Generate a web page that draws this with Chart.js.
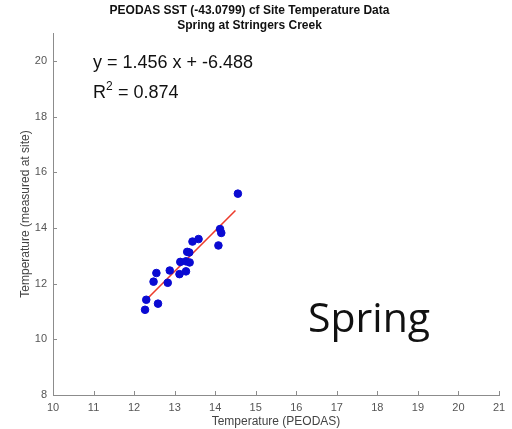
<!DOCTYPE html>
<html>
<head>
<meta charset="utf-8">
<title>PEODAS SST cf Site Temperature - Spring</title>
<script src="https://cdn.jsdelivr.net/npm/chart.js@4/dist/chart.umd.min.js"></script>
<style>
  html, body { margin: 0; padding: 0; background: #fff; }
  #wrap { position: relative; width: 512px; height: 429px; }
</style>
</head>
<body>
<div id="wrap"><canvas id="sstChart" width="512" height="429"></canvas></div>
<script>
// values
const peodasTemp = [14.56, 14.12, 14.15, 14.08, 13.59, 13.44, 13.31, 13.36, 13.14, 13.28,
                    13.37, 12.88, 13.12, 13.28, 12.55, 12.48, 12.83, 12.30, 12.59, 12.27];
const siteTemp   = [15.23, 13.96, 13.82, 13.37, 13.60, 13.51, 13.14, 13.12, 12.78, 12.80,
                    12.76, 12.47, 12.34, 12.44, 12.38, 12.07, 12.03, 11.42, 11.28, 11.06];
const fitSlope = 1.456;
const fitIntercept = -6.488;
const fitRange = [12.27, 14.5];
const rSquared = 0.874;
const xTicks = [10, 11, 12, 13, 14, 15, 16, 17, 18, 19, 20, 21];
const yTicks = [8, 10, 12, 14, 16, 18, 20];
const chartTitle = ["PEODAS SST (-43.0799) cf Site Temperature Data", "Spring at Stringers Creek"];
const seasonLabel = "Spring";

const axisGray = "#8c8c8c";
const labelGray = "#555";
const sans = "'Liberation Sans', Arial, Helvetica, sans-serif";

const scatterPoints = peodasTemp.map((x, i) => ({ x: x, y: siteTemp[i] }));
const fitPoints = fitRange.map(x => ({ x: x, y: fitSlope * x + fitIntercept }));

// matlab style ticks pointing into the plot area
const innerTicks = {
  id: "innerTicks",
  afterDraw(chart) {
    const ctx = chart.ctx;
    const xs = chart.scales.x, ys = chart.scales.y;
    ctx.save();
    ctx.strokeStyle = axisGray;
    ctx.lineWidth = 1;
    ctx.beginPath();
    xTicks.forEach(v => {
      const px = Math.round(xs.getPixelForValue(v)) + 0.5;
      ctx.moveTo(px, xs.top);
      ctx.lineTo(px, xs.top - 4);
    });
    yTicks.forEach(v => {
      const py = Math.round(ys.getPixelForValue(v)) + 0.5;
      ctx.moveTo(ys.right, py);
      ctx.lineTo(ys.right + 4, py);
    });
    ctx.stroke();
    ctx.restore();
  }
};

const fitText = {
  id: "fitText",
  afterDraw(chart) {
    const ctx = chart.ctx;
    const area = chart.chartArea;
    const left = area.left + 40;
    ctx.save();
    ctx.fillStyle = "#111";
    ctx.textBaseline = "alphabetic";
    ctx.font = "18px " + sans;
    ctx.fillText("y = " + fitSlope.toFixed(3) + " x + " + fitIntercept.toFixed(3), left, area.top + 35);
    ctx.fillText("R", left, area.top + 65);
    const rw = ctx.measureText("R").width;
    ctx.font = "12px " + sans;
    ctx.fillText("2", left + rw, area.top + 57);
    ctx.font = "18px " + sans;
    ctx.fillText(" = " + rSquared.toFixed(3), left + rw + 7, area.top + 65);

    ctx.font = "41px 'Open Sans', 'Noto Sans', sans-serif";
    ctx.fillText(seasonLabel, 308, 332);
    ctx.restore();
  }
};

new Chart(document.getElementById("sstChart"), {
  type: "scatter",
  data: {
    datasets: [
      {
        label: "Site vs PEODAS",
        data: scatterPoints,
        backgroundColor: "#0a0ad2",
        borderColor: "#0a0ad2",
        pointRadius: 3.8,
        pointHoverRadius: 3.8,
        order: 1
      },
      {
        type: "line",
        label: "Fit",
        data: fitPoints,
        borderColor: "#ec3b2c",
        borderWidth: 1.6,
        pointRadius: 0,
        fill: false,
        order: 2
      }
    ]
  },
  options: {
    responsive: false,
    animation: false,
    layout: { padding: { left: 0, right: 13, top: 0, bottom: 0 } },
    plugins: {
      legend: { display: false },
      tooltip: { enabled: false },
      title: {
        display: true,
        text: chartTitle,
        color: "#111",
        font: { family: sans, size: 12, weight: "bold", lineHeight: 1.25 },
        padding: { top: 3, bottom: 0 }
      }
    },
    scales: {
      x: {
        type: "linear",
        min: 10,
        max: 21,
        afterFit(scale) { scale.height = 34; },
        grid: { display: false, drawTicks: false },
        border: { display: true, color: axisGray, width: 1 },
        ticks: {
          stepSize: 1,
          includeBounds: false,
          padding: 6,
          color: labelGray,
          font: { family: sans, size: 11 }
        },
        title: {
          display: true,
          text: "Temperature (PEODAS)",
          color: "#444",
          font: { family: sans, size: 12 },
          padding: { top: 0, bottom: 0 }
        }
      },
      y: {
        type: "linear",
        min: 8,
        max: 21,
        afterFit(scale) { scale.width = 53; },
        grid: { display: false, drawTicks: false },
        border: { display: true, color: axisGray, width: 1 },
        ticks: {
          stepSize: 2,
          includeBounds: false,
          padding: 6,
          color: labelGray,
          font: { family: sans, size: 11 }
        },
        title: {
          display: true,
          text: "Temperature (measured at site)",
          color: "#444",
          font: { family: sans, size: 12 },
          padding: { top: 18, bottom: 0 }
        }
      }
    }
  },
  plugins: [innerTicks, fitText]
});
</script>
</body>
</html>
